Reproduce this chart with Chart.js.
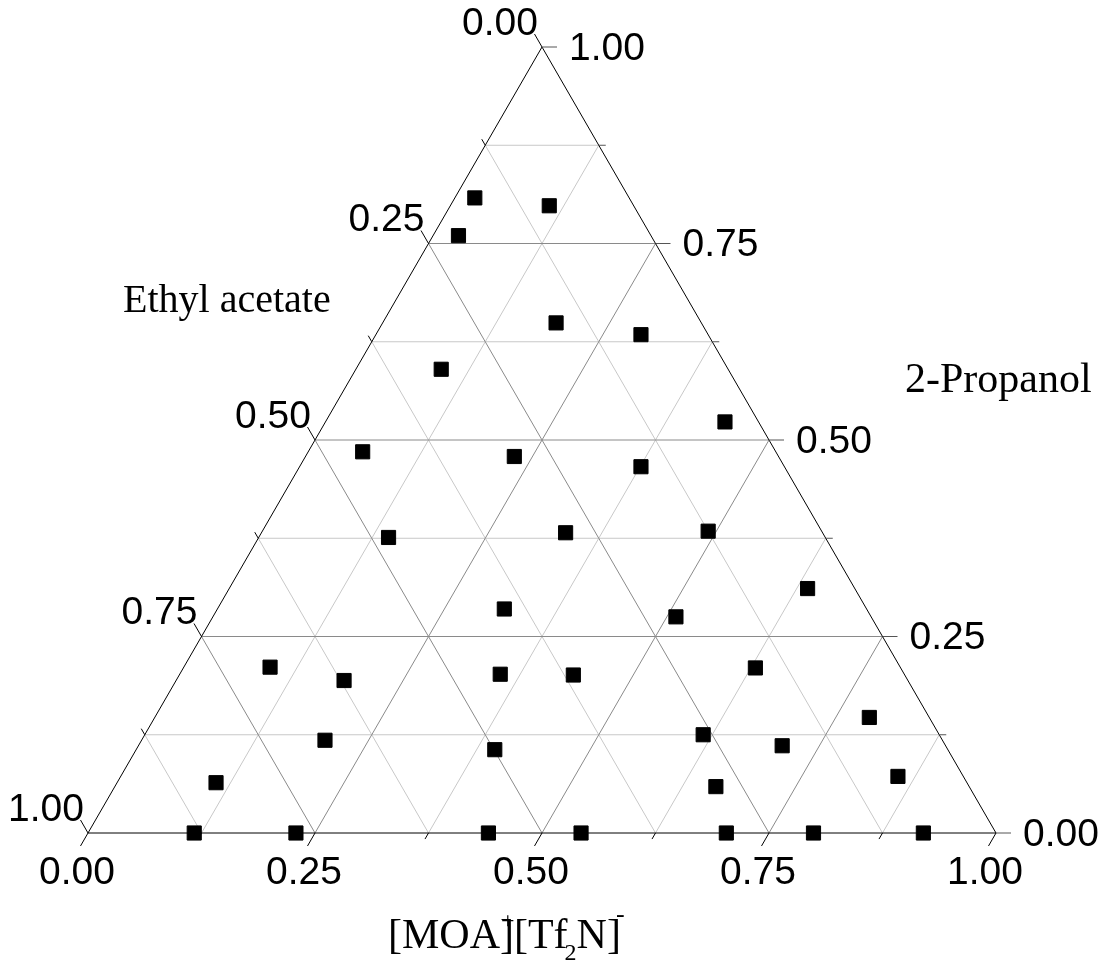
<!DOCTYPE html>
<html>
<head>
<meta charset="utf-8">
<script src="https://cdn.jsdelivr.net/npm/chart.js"></script>
<style>
  body { margin: 0; background: #fff; }
  #wrap { width: 1106px; height: 963px; }
</style>
</head>
<body>
<div id="wrap"><canvas id="ternary"></canvas></div>
<script>
// mole fractions of each composition: [MOA]+[Tf2N]-, ethyl acetate, 2-propanol
const moa = [0.022, 0.109, 0.028, 0.191, 0.292, 0.094, 0.440, 0.060, 0.230, 0.376,
             0.143, 0.335, 0.491, 0.637, 0.316, 0.510, 0.095, 0.185, 0.353, 0.434,
             0.630, 0.787, 0.202, 0.395, 0.615, 0.709, 0.109, 0.856, 0.662,
             0.117, 0.229, 0.441, 0.543, 0.703, 0.799, 0.920];
const ethylAcetate = [0.170, 0.093, 0.212, 0.160, 0.074, 0.316, 0.037, 0.455, 0.291, 0.158,
             0.481, 0.283, 0.125, 0.052, 0.399, 0.215, 0.694, 0.621, 0.445, 0.365,
             0.160, 0.066, 0.680, 0.499, 0.260, 0.180, 0.827, 0.072, 0.279,
             0.883, 0.771, 0.559, 0.457, 0.297, 0.201, 0.080];
const propanol = [0.808, 0.798, 0.760, 0.649, 0.634, 0.590, 0.523, 0.485, 0.479, 0.466,
             0.376, 0.382, 0.384, 0.311, 0.285, 0.275, 0.211, 0.194, 0.202, 0.201,
             0.210, 0.147, 0.118, 0.106, 0.125, 0.111, 0.064, 0.072, 0.059,
             0, 0, 0, 0, 0, 0, 0];

const tickValues = [0, 0.25, 0.5, 0.75, 1];
const tickLabels = ["0.00", "0.25", "0.50", "0.75", "1.00"];
const majorGrid = [0.25, 0.5, 0.75];
const minorGrid = [0.125, 0.375, 0.625, 0.875];

const H = Math.sqrt(3) / 2;

// ternary (a = MOA, p = 2-propanol) -> cartesian
function toXY(a, p) {
  return { x: a + p / 2, y: p * H };
}

function gridSegments(vals) {
  const pts = [];
  vals.forEach(v => {
    pts.push(toXY(v, 0), toXY(v, 1 - v), { x: null, y: null });     // constant MOA
    pts.push(toXY(0, v), toXY(1 - v, v), { x: null, y: null });     // constant 2-propanol
    pts.push(toXY(1 - v, 0), toXY(0, 1 - v), { x: null, y: null }); // constant ethyl acetate
  });
  return pts;
}

const points = moa.map((a, i) => {
  const t = a + ethylAcetate[i] + propanol[i];
  return toXY(a / t, propanol[i] / t);
});

const ternaryAxes = {
  id: 'ternaryAxes',
  afterDatasetsDraw(chart) {
    const { ctx, scales: { x, y } } = chart;
    const px = (a, p) => {
      const c = toXY(a, p);
      return { x: x.getPixelForValue(c.x), y: y.getPixelForValue(c.y) };
    };
    ctx.save();
    ctx.lineWidth = 1;

    const tick = (s, dx, dy, len, color) => {
      ctx.strokeStyle = color;
      ctx.beginPath();
      ctx.moveTo(s.x, s.y);
      ctx.lineTo(s.x + dx * len, s.y + dy * len);
      ctx.stroke();
    };
    const all = tickValues.map(v => [v, 15]).concat(minorGrid.map(v => [v, 7]));
    all.forEach(([v, len]) => {
      tick(px(v, 0), -0.5, H, len, '#000');          // bottom
      tick(px(0, 1 - v), -0.5, -H, len, '#000');     // left
      tick(px(1 - v, v), 1, 0, len, '#555');         // right
    });

    ctx.fillStyle = '#000';
    ctx.font = '39px "Liberation Sans", Arial, sans-serif';
    ctx.textBaseline = 'middle';
    tickValues.forEach((v, i) => {
      let s = px(v, 0);
      ctx.textAlign = 'center';
      ctx.fillText(tickLabels[i], s.x - 11, s.y + 40);
      s = px(0, 1 - v);
      ctx.textAlign = 'right';
      ctx.fillText(tickLabels[i], s.x - 4, s.y - 23);
      s = px(1 - v, v);
      ctx.textAlign = 'left';
      ctx.fillText(tickLabels[i], s.x + 27, s.y + 2);
    });

    // axis titles
    const serif = '"Liberation Serif", "Times New Roman", serif';
    ctx.textAlign = 'left';
    ctx.textBaseline = 'alphabetic';
    ctx.font = '40px ' + serif;
    ctx.fillText('Ethyl acetate', 123, 312);
    ctx.font = '42px ' + serif;
    ctx.fillText('2-Propanol', 905, 392);

    let tx = 388;
    const by = 948;
    ctx.font = '42px ' + serif;
    ctx.fillText('[MOA]', tx, by);
    tx += ctx.measureText('[MOA]').width;
    ctx.font = '24px ' + serif;
    ctx.fillText('+', tx - 13, by - 20);
    ctx.font = '42px ' + serif;
    ctx.fillText('[Tf', tx, by);
    tx += ctx.measureText('[Tf').width;
    ctx.font = '24px ' + serif;
    ctx.fillText('2', tx - 3, by + 12);
    tx += ctx.measureText('2').width - 3;
    ctx.font = '42px ' + serif;
    ctx.fillText('N]', tx, by);
    tx += ctx.measureText('N]').width;
    ctx.font = '26px ' + serif;
    ctx.fillText('-', tx - 5, by - 26);
    ctx.restore();
  }
};

new Chart(document.getElementById('ternary'), {
  type: 'scatter',
  data: {
    datasets: [
      {
        label: 'Compositions',
        data: points,
        pointStyle: 'rect',
        pointRadius: 10,
        pointHoverRadius: 10,
        backgroundColor: '#000',
        borderColor: '#000',
        borderWidth: 1,
        clip: false,
        order: 0
      },
      {
        label: 'edges',
        data: [toXY(0, 0), toXY(1, 0), toXY(0, 1), toXY(0, 0)],
        showLine: true,
        borderColor: '#000',
        borderWidth: 1,
        pointRadius: 0,
        clip: false,
        order: 1
      },
      {
        label: 'major',
        data: gridSegments(majorGrid),
        showLine: true,
        spanGaps: false,
        borderColor: '#8a8a8a',
        borderWidth: 1,
        pointRadius: 0,
        order: 2
      },
      {
        label: 'minor',
        data: gridSegments(minorGrid),
        showLine: true,
        spanGaps: false,
        borderColor: '#c8c8c8',
        borderWidth: 1,
        pointRadius: 0,
        order: 3
      }
    ]
  },
  options: {
    responsive: true,
    maintainAspectRatio: false,
    animation: false,
    layout: { autoPadding: false, padding: { left: 88, right: 110, top: 47, bottom: 130 } },
    plugins: { legend: { display: false }, tooltip: { enabled: false } },
    scales: {
      x: { type: 'linear', min: 0, max: 1, display: false },
      y: { type: 'linear', min: 0, max: H, display: false }
    }
  },
  plugins: [ternaryAxes]
});
</script>
</body>
</html>
